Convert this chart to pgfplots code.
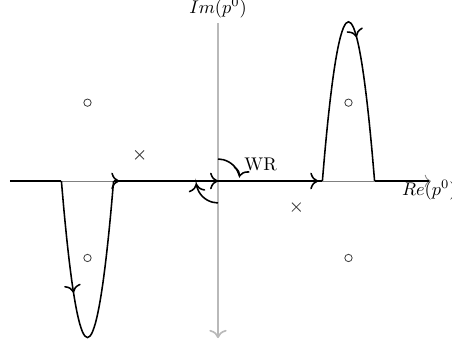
\documentclass[border=0pt]{standalone}
\usepackage{pgfplots}
\pgfplotsset{compat=1.18}
\usetikzlibrary{decorations.markings,arrows.meta}
\begin{document}
\begin{tikzpicture}[>={To[scale=1.25]}]
\begin{axis}[hide axis, x=0.5cm, y=0.5cm, xmin=-8.5, xmax=9, ymin=-6.5, ymax=7, clip=false,
  tick=none]
% axes
\addplot[gray!55, line width=0.9pt, ->] coordinates {(0,6.05) (0,-6.02)};
\addplot[gray, line width=0.45pt, ->] coordinates {(-7.97,0) (8.15,0)};
% contour
\addplot[black, line width=0.85pt] coordinates {(-7.97,0) (-6,0)};
\addplot[black, line width=0.85pt, smooth, postaction={decorate}, decoration={markings, mark=at position 0.35 with {\arrow{>}}}] coordinates {
(-6,0) (-5.9,-1.14) (-5.8,-2.16) (-5.7,-3.06) (-5.6,-3.84) (-5.5,-4.5) (-5.4,-5.04) (-5.3,-5.46) (-5.2,-5.76) (-5.1,-5.94) (-5,-6) (-4.9,-5.94) (-4.8,-5.76) (-4.7,-5.46) (-4.6,-5.04) (-4.5,-4.5) (-4.4,-3.84) (-4.3,-3.06) (-4.2,-2.16) (-4.1,-1.14) (-4,0)};
\addplot[black, line width=0.85pt, postaction={decorate}, decoration={markings, mark=at position 0.027 with {\arrow{>}}, mark=at position 0.5 with {\arrow{>}}, mark=at position 0.98 with {\arrow{>}}}] coordinates {(-4,0) (4,0)};
\addplot[black, line width=0.85pt, smooth, postaction={decorate}, decoration={markings, mark=at position 0.555 with {\arrow{>}}}] coordinates {
(4,0) (4.1,1.159) (4.2,2.196) (4.3,3.111) (4.4,3.904) (4.5,4.575) (4.6,5.124) (4.7,5.551) (4.8,5.856) (4.9,6.039) (5,6.1) (5.1,6.039) (5.2,5.856) (5.3,5.551) (5.4,5.124) (5.5,4.575) (5.6,3.904) (5.7,3.111) (5.8,2.196) (5.9,1.159) (6,0)};
\addplot[black, line width=0.85pt] coordinates {(6,0) (8.1,0)};
% rotation arcs
\addplot[black, line width=0.85pt, smooth, ->] coordinates {(0,0.84) (0.2174,0.8114) (0.42,0.7275) (0.594,0.594) (0.7275,0.42) (0.8114,0.2174) (0.8216,0.1746)};
\addplot[black, line width=0.85pt, smooth, ->] coordinates {(0,-0.84) (-0.2174,-0.8114) (-0.42,-0.7275) (-0.594,-0.594) (-0.7275,-0.42) (-0.8114,-0.2174) (-0.8337,-0.1024)};
% poles
\addplot[only marks, mark=o, mark size=2pt, black!75, mark options={line width=0.45pt}] coordinates {(-5,3) (-5,-2.95) (5,3) (5,-2.95)};
\addplot[only marks, mark=x, mark size=3.4pt, black!75, mark options={line width=0.45pt}] coordinates {(-3,1) (3,-1)};
% labels
\node[anchor=base west, inner sep=0pt] at (axis cs:1.0,0.39) {WR};
\node[anchor=base west, inner sep=0pt] at (axis cs:7.04,-0.54) {$Re(p^0)$};
\node[anchor=base, inner sep=0pt] at (axis cs:0,6.43) {$Im(p^0)$};
\coordinate (O) at (axis cs:0,0);
\end{axis}
\pgfresetboundingbox
\path[use as bounding box] ([shift={(-4.176cm,-3.18cm)}]O) rectangle ([shift={(4.483cm,3.467cm)}]O);
\end{tikzpicture}
\end{document}
